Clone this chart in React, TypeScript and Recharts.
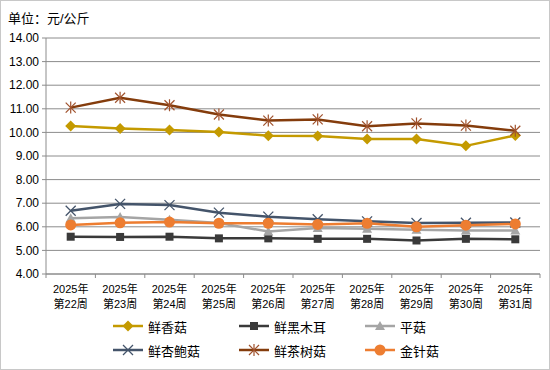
import { LineChart, Line, XAxis, YAxis, CartesianGrid, Legend } from "recharts";

const weeks = [
  "2025年第22周",
  "2025年第23周",
  "2025年第24周",
  "2025年第25周",
  "2025年第26周",
  "2025年第27周",
  "2025年第28周",
  "2025年第29周",
  "2025年第30周",
  "2025年第31周",
];

const xiangGu = [10.27, 10.17, 10.1, 10.02, 9.86, 9.85, 9.72, 9.72, 9.43, 9.87];
const heiMuEr = [5.58, 5.57, 5.58, 5.51, 5.51, 5.49, 5.49, 5.42, 5.49, 5.47];
const pingGu = [6.36, 6.42, 6.3, 6.16, 5.8, 5.95, 5.92, 5.88, 5.84, 5.84];
const xingBaoGu = [6.68, 6.97, 6.92, 6.6, 6.43, 6.32, 6.23, 6.16, 6.17, 6.18];
const chaShuGu = [11.05, 11.47, 11.15, 10.76, 10.5, 10.55, 10.26, 10.38, 10.29, 10.07];
const jinZhenGu = [6.08, 6.17, 6.2, 6.15, 6.15, 6.1, 6.15, 6.0, 6.07, 6.12];

const yTicks = [4, 5, 6, 7, 8, 9, 10, 11, 12, 13, 14];

type Shape = "diamond" | "square" | "triangle" | "cross" | "star" | "circle";

const series: { key: string; name: string; color: string; shape: Shape }[] = [
  { key: "xiangGu", name: "鲜香菇", color: "#C49A00", shape: "diamond" },
  { key: "heiMuEr", name: "鲜黑木耳", color: "#3A3A3A", shape: "square" },
  { key: "pingGu", name: "平菇", color: "#A5A5A5", shape: "triangle" },
  { key: "xingBaoGu", name: "鲜杏鲍菇", color: "#44546A", shape: "cross" },
  { key: "chaShuGu", name: "鲜茶树菇", color: "#843C0C", shape: "star" },
  { key: "jinZhenGu", name: "金针菇", color: "#ED7D31", shape: "circle" },
];

const data = weeks.map((w, i) => ({
  x: i + 0.5,
  week: w,
  xiangGu: xiangGu[i],
  heiMuEr: heiMuEr[i],
  pingGu: pingGu[i],
  xingBaoGu: xingBaoGu[i],
  chaShuGu: chaShuGu[i],
  jinZhenGu: jinZhenGu[i],
}));

const W = 550;
const H = 370;
const M = { top: 38, right: 10, left: 0, bottom: 56 };
const Y_W = 46;
const PLOT_W = W - M.left - M.right - Y_W;
const FONT = "'Liberation Sans', 'Noto Sans CJK SC', sans-serif";

function Marker({ shape, cx, cy, color }: { shape: Shape; cx: number; cy: number; color: string }) {
  switch (shape) {
    case "diamond":
      return (
        <polygon
          points={`${cx},${cy - 5.5} ${cx + 5.5},${cy} ${cx},${cy + 5.5} ${cx - 5.5},${cy}`}
          fill={color}
        />
      );
    case "square":
      return <rect x={cx - 4} y={cy - 4} width={8} height={8} fill={color} />;
    case "triangle":
      return <polygon points={`${cx},${cy - 5} ${cx + 5},${cy + 4} ${cx - 5},${cy + 4}`} fill={color} />;
    case "cross":
      return (
        <g stroke={color} strokeWidth={1.3}>
          <line x1={cx - 5} y1={cy - 5} x2={cx + 5} y2={cy + 5} />
          <line x1={cx - 5} y1={cy + 5} x2={cx + 5} y2={cy - 5} />
        </g>
      );
    case "star":
      return (
        <g stroke="#A0522D" strokeWidth={1.2}>
          <line x1={cx - 5} y1={cy - 5} x2={cx + 5} y2={cy + 5} />
          <line x1={cx - 5} y1={cy + 5} x2={cx + 5} y2={cy - 5} />
          <line x1={cx} y1={cy - 6} x2={cx} y2={cy + 6} />
        </g>
      );
    default:
      return <circle cx={cx} cy={cy} r={5.5} fill={color} />;
  }
}

function WeekTick(props: any) {
  const { x, y, payload } = props;
  const i = Number(payload?.value);
  if (i >= weeks.length) return null;
  const [year, week] = weeks[i].split("年");
  const cx = x + PLOT_W / weeks.length / 2;
  return (
    <g>
      <text x={cx} y={y + 13} textAnchor="middle" fontSize={11} fontFamily={FONT} fill="#000">
        {year + "年"}
      </text>
      <text x={cx} y={y + 28} textAnchor="middle" fontSize={11} fontFamily={FONT} fill="#000">
        {week}
      </text>
    </g>
  );
}

function LegendBox() {
  return (
    <div
      style={{
        display: "grid",
        gridTemplateColumns: "126px 126px 126px",
        rowGap: 6,
        fontFamily: FONT,
        fontSize: 13,
        color: "#000",
      }}
    >
      {series.map((s) => (
        <div key={s.key} style={{ display: "flex", alignItems: "center", height: 18 }}>
          <svg width={30} height={14} style={{ marginRight: 5 }}>
            <line x1={0} y1={7} x2={30} y2={7} stroke={s.color} strokeWidth={2.5} />
            <Marker shape={s.shape} cx={15} cy={7} color={s.color} />
          </svg>
          <span>{s.name}</span>
        </div>
      ))}
    </div>
  );
}

export default function App() {
  return (
    <div style={{ position: "absolute", left: 0, top: 0, width: W, height: H, background: "#fff" }}>
      <div
        style={{
          position: "absolute",
          left: 8,
          top: 8,
          fontFamily: FONT,
          fontSize: 13,
          color: "#000",
        }}
      >
        单位：元/公斤
      </div>
      <LineChart width={W} height={H} data={data} margin={M}>
        <CartesianGrid vertical={false} stroke="#8C8C8C" strokeWidth={1} />
        <XAxis
          dataKey="x"
          type="number"
          domain={[0, weeks.length]}
          ticks={weeks.map((_, i) => i).concat(weeks.length)}
          interval={0}
          height={40}
          stroke="#8C8C8C"
          tickSize={4}
          tick={<WeekTick />}
        />
        <YAxis
          width={Y_W}
          domain={[4, 14]}
          ticks={yTicks}
          interval={0}
          tickFormatter={(v: number) => v.toFixed(2)}
          stroke="#8C8C8C"
          tickSize={4}
          tickMargin={3}
          tick={{ fontSize: 12, fontFamily: FONT, fill: "#000" }}
        />
        <Legend
          layout="horizontal"
          verticalAlign="middle"
          align="center"
          wrapperStyle={{ position: "absolute", top: 317, left: 113, width: 400 }}
          content={() => <LegendBox />}
        />
        {series.map((s) => (
          <Line
            key={s.key}
            dataKey={s.key}
            name={s.name}
            stroke={s.color}
            strokeWidth={2.5}
            isAnimationActive={false}
            dot={(p: any) => (
              <Marker key={`${s.key}-${p.index}`} shape={s.shape} cx={p.cx} cy={p.cy} color={s.color} />
            )}
            activeDot={false}
          />
        ))}
      </LineChart>
      <div
        style={{
          position: "absolute",
          left: 0,
          top: 0,
          width: W,
          height: H,
          boxSizing: "border-box",
          border: "1px solid #C8C8C8",
          pointerEvents: "none",
        }}
      />
    </div>
  );
}
